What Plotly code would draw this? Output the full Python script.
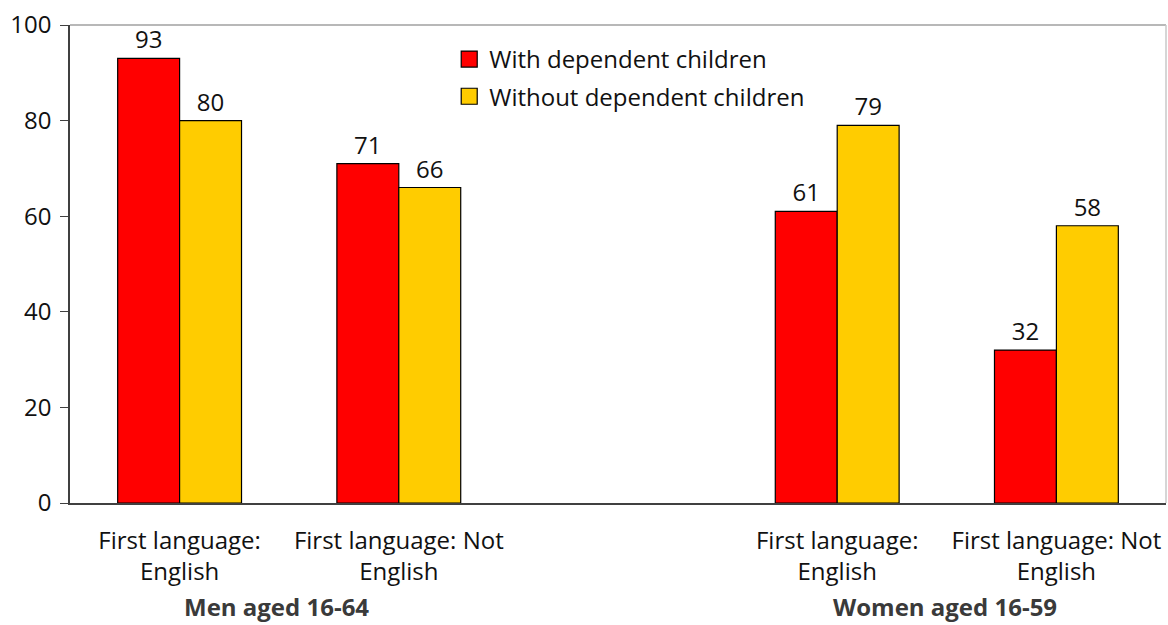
import plotly.graph_objects as go

# Category positions (slot 2 is left empty to separate men and women)
cat_pos = [0, 1, 3, 4]
cat_labels = ["First language:<br>English", "First language: Not<br>English",
              "First language:<br>English", "First language: Not<br>English"]
with_children = [93, 71, 61, 32]
without_children = [80, 66, 79, 58]
series_names = ["With dependent children", "Without dependent children"]
series_colors = ["#FF0000", "#FFCC00"]
group_labels = ["Men aged 16-64", "Women aged 16-59"]
group_pos = [0.44, 3.49]
y_ticks = [0, 20, 40, 60, 80, 100]

FONT = "Open Sans"
SIZE = 24
fig = go.Figure()
for name, vals, color in zip(series_names, [with_children, without_children], series_colors):
    fig.add_trace(go.Bar(
        x=cat_pos, y=vals, name=name, showlegend=False,
        marker=dict(color=color, line=dict(color="#000000", width=1.2)),
        text=[str(v) for v in vals], textposition="outside",
        textfont=dict(size=SIZE, color="#111111", family=FONT), cliponaxis=False,
    ))
# legend entries with larger square swatches
for i, (name, color) in enumerate(zip(series_names, series_colors)):
    fig.add_trace(go.Scatter(
        x=[None], y=[None], mode="markers", name=name, legendgroup=f"g{i}",
        marker=dict(symbol="square", size=16, color=color,
                    line=dict(color="#000000", width=1.2)),
    ))

for label, pos in zip(group_labels, group_pos):
    fig.add_annotation(x=pos, y=0, xref="x", yref="paper", yanchor="top",
                       yshift=-86, borderpad=0, text=f"<b>{label}</b>",
                       showarrow=False,
                       font=dict(size=SIZE, color="#3a3a3a", family=FONT))

# light frame on top and right of the plot area
fig.add_shape(type="line", xref="paper", yref="paper", x0=0, x1=1, y0=1, y1=1,
              line=dict(color="#a0a0a0", width=1.5))
fig.add_shape(type="line", xref="paper", yref="paper", x0=1, x1=1, y0=0, y1=1,
              line=dict(color="#c8c8c8", width=1.5))

fig.update_layout(
    width=1168, height=625,
    margin=dict(l=70, r=2, t=25, b=122),
    paper_bgcolor="white", plot_bgcolor="white",
    font=dict(family=FONT, size=SIZE, color="#111111"),
    barmode="group", bargap=0.435, bargroupgap=0,
    showlegend=True,
    legend=dict(x=0.346, y=0.975, xanchor="left", yanchor="top",
                bgcolor="rgba(0,0,0,0)", font=dict(size=SIZE, family=FONT),
                itemsizing="trace", itemwidth=30, tracegroupgap=3),
    xaxis=dict(range=[-0.5, 4.5], tickvals=cat_pos, ticktext=cat_labels,
               showline=True, linecolor="#404040", linewidth=1.5,
               ticks="", showgrid=False, zeroline=False,
               ticklabelstandoff=15, tickfont=dict(size=SIZE)),
    yaxis=dict(range=[0, 100], tickvals=y_ticks, showline=True,
               linecolor="#404040", linewidth=1.5, ticks="outside",
               ticklen=8, tickcolor="#404040", showgrid=False,
               zeroline=False, ticklabelstandoff=4, tickfont=dict(size=SIZE)),
)

fig.write_html("out.html")
